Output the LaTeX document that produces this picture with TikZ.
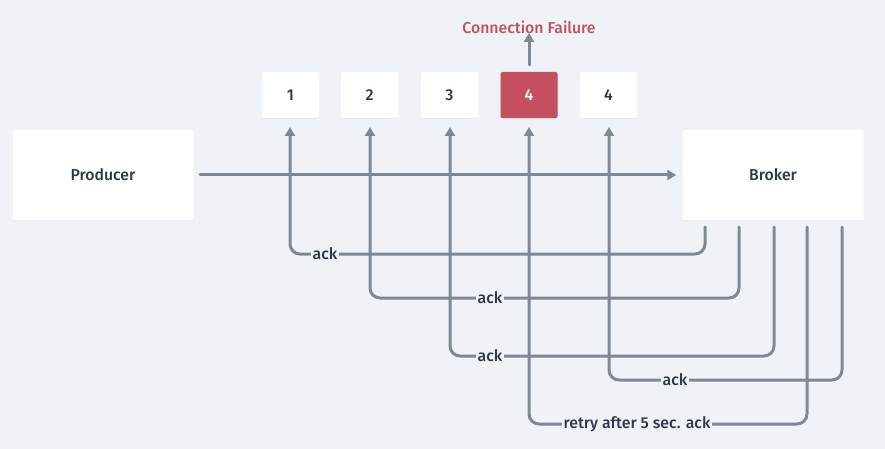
\documentclass[tikz,border=0pt]{standalone}
\usepackage{fontspec}
\setmainfont{Fira Sans}[UprightFont={* Medium}]
\usetikzlibrary{arrows.meta,shadows}
\definecolor{bg}{HTML}{EFF3F7}
\definecolor{ln}{HTML}{7F8994}
\definecolor{txt}{HTML}{2D3748}
\definecolor{failred}{HTML}{C4505F}
\tikzset{
  bigbox/.style={draw=none,fill=white,rounded corners=2pt,minimum width=181pt,minimum height=90pt,font=\fontsize{15.8}{18}\selectfont,text=txt,drop shadow={opacity=0.06,shadow xshift=0pt,shadow yshift=-1pt}},
  msgbox/.style={draw=none,fill=white,rounded corners=2pt,minimum width=57pt,minimum height=46pt,font=\fontsize{15.8}{18}\selectfont,text=txt,drop shadow={opacity=0.06,shadow xshift=0pt,shadow yshift=-1pt}},
  failbox/.style={msgbox,fill=failred,text=white,drop shadow={opacity=0.15,shadow xshift=0pt,shadow yshift=-1pt}},
  conn/.style={draw=ln,line width=3pt,line cap=round,rounded corners=10pt,-{Triangle[length=9pt,width=10pt]}},
  lbl/.style={fill=bg,inner sep=2pt,text=txt,font=\fontsize{15.8}{18}\selectfont},
}
\begin{document}
\begin{tikzpicture}[x=1pt,y=-1pt]
\fill[bg] (0,0) rectangle (885,449);
\useasboundingbox (0,0) rectangle (885,449);
\node[bigbox] (prod) at (103,175) {Producer};
\node[bigbox] (brok) at (773,175) {Broker};
\node[msgbox] (m1) at (290.5,95) {1};
\node[msgbox] (m2) at (369.5,95) {2};
\node[msgbox] (m3) at (449.5,95) {3};
\node[failbox] (m4) at (529,95) {4};
\node[msgbox] (m5) at (608.5,95) {4};
\node[text=failred,font=\fontsize{15.8}{18}\selectfont] (cf) at (529,27) {Connection Failure};
\draw[conn,rounded corners=0pt] (m4.north) ++(0,-7) coordinate (cfs) -- ([yshift=4pt]cf.south);
% producer to broker
\coordinate (ps) at (200,175);
\draw[conn,rounded corners=0pt] (ps) -- ([xshift=-6pt]brok.west);
% broker outputs
\coordinate (b1) at (705,227);
\coordinate (b2) at (739,227);
\coordinate (b3) at (774,227);
\coordinate (b4) at (807,227);
\coordinate (b5) at (842,227);
\coordinate (t1) at (290,127);
\coordinate (t2) at (370,127);
\coordinate (t3) at (450,127);
\coordinate (t4) at (529,127);
\coordinate (t5) at (609,127);
\draw[conn] (b1) -- (705,254) -- (290,254) -- (t1);
\draw[conn] (b2) -- (739,298) -- (370,298) -- (t2);
\draw[conn] (b3) -- (774,356) -- (450,356) -- (t3);
\draw[conn] (b5) -- (842,380) -- (609,380) -- (t5);
\draw[conn] (b4) -- (807,424) -- (529,424) -- (t4);
\node[lbl] (a1) at (325,254) {ack};
\node[lbl] (a2) at (490,298) {ack};
\node[lbl] (a3) at (490,356) {ack};
\node[lbl] (a5) at (675,380) {ack};
\node[lbl] (a4) at (637,424) {retry after 5 sec. ack};
\end{tikzpicture}
\end{document}
